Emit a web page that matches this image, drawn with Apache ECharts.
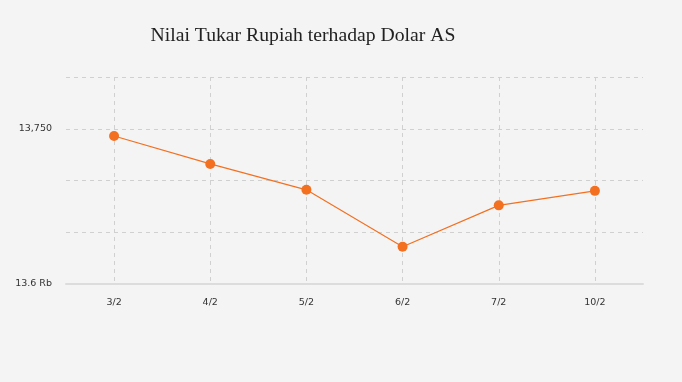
<!DOCTYPE html>
<html><head><meta charset="utf-8">
<script src="https://cdn.jsdelivr.net/npm/echarts@6/dist/echarts.min.js"></script>
<style>html,body{margin:0;padding:0;background:#f4f4f4;}#c{width:682px;height:382px;}</style>
</head><body><div id="c"></div>
<script>
const categories = ['3/2','4/2','5/2','6/2','7/2','10/2'];
const rates = [13743, 13716, 13691, 13636, 13676, 13690];
const titleText = 'Nilai Tukar Rupiah terhadap Dolar AS';

const chart = echarts.init(document.getElementById('c'));
chart.setOption({
  backgroundColor: '#f4f4f4',
  animation: false,
  title: {
    text: titleText, left: 298, top: 21, textAlign: 'center',
    textStyle: {fontFamily: 'Liberation Serif', fontSize: 19.7, fontWeight: 'normal', color: '#222'}
  },
  grid: {left: 66, right: 39, top: 77, bottom: 98},
  xAxis: {
    type: 'category', data: categories, boundaryGap: true,
    axisLine: {lineStyle: {color: '#dcdcdc', width: 2}},
    axisTick: {alignWithLabel: true, length: 4, lineStyle: {color: '#d8d8d8'}},
    axisLabel: {color: '#333', fontFamily: 'DejaVu Sans', fontSize: 9.5, margin: 14},
    splitLine: {show: true, alignWithLabel: true, lineStyle: {color: '#d0d0d0', type: [4, 4]}}
  },
  yAxis: {
    type: 'value', min: 13600, max: 13800, interval: 50,
    axisLine: {show: false}, axisTick: {show: false},
    axisLabel: {
      color: '#333', fontFamily: 'DejaVu Sans', fontSize: 9.5, margin: 14,
      formatter: v => v === 13600 ? '13.6 Rb' : (v === 13750 ? '13,750' : '')
    },
    splitLine: {lineStyle: {color: '#d0d0d0', type: [4, 4]}}
  },
  series: [{
    type: 'line', data: rates, symbol: 'circle', symbolSize: 10,
    lineStyle: {color: '#f37021', width: 1.2},
    itemStyle: {color: '#f37021'}
  }]
});
</script></body></html>
